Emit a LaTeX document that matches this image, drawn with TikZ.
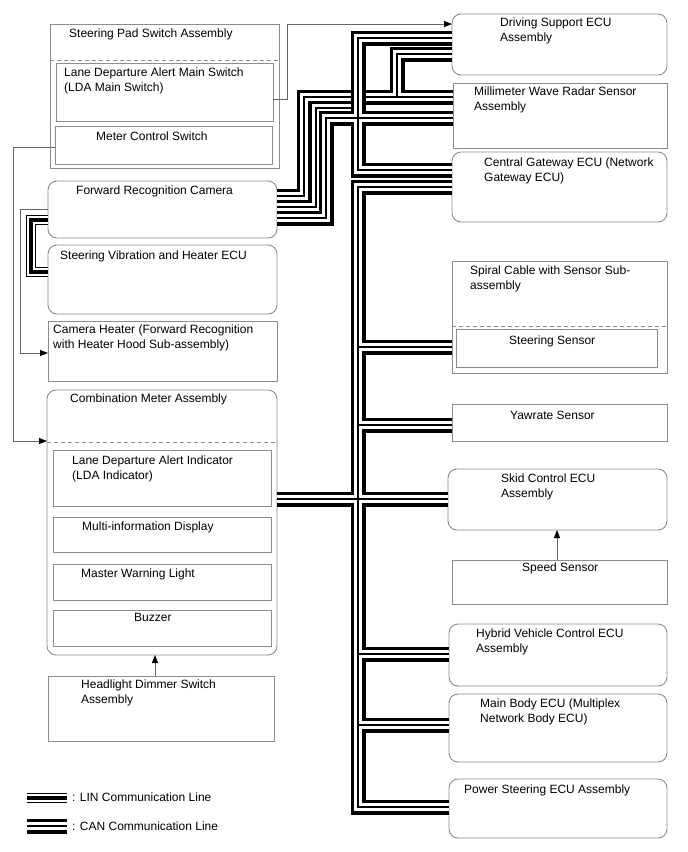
\documentclass[tikz,border=0pt]{standalone}
\usepackage{fontspec}
\setmainfont{Liberation Sans}
\usetikzlibrary{arrows.meta}
\begin{document}
\begin{tikzpicture}[x=1pt,y=-1pt,
  box/.style={draw=black!45, line width=0.9pt, inner sep=0pt, outer sep=0pt, anchor=north west},
  rbox/.style={box, rounded corners=9pt},
  lbl/.style={anchor=north west, inner sep=0pt, align=left, font=\fontsize{12}{15}\selectfont},
  canbus/.style={line width=1.3pt, preaction={draw, line width=15pt}, preaction={draw=white, line width=7.6pt}},
  linbus/.style={line width=4pt, preaction={draw, line width=10pt}, preaction={draw=white, line width=7.6pt}},
  conn/.style={draw=black!60, line width=0.8pt},
  arr/.style={conn, -{Triangle[length=8pt,width=6pt,color=black]}},
  sepline/.style={draw=black!45, line width=0.9pt, dash pattern=on 4pt off 3pt},
]
\useasboundingbox (0,0) rectangle (688,852);

% ---------- left column boxes
\node[box, minimum width=229pt, minimum height=144pt] (spad) at (50,24) {};
\node[box, minimum width=217pt, minimum height=58pt] (ldasw) at (56,63) {};
\node[box, minimum width=217pt, minimum height=38pt] (mcsw) at (55,126) {};
\node[rbox, minimum width=229pt, minimum height=57pt] (cam) at (48,181) {};
\node[rbox, minimum width=229pt, minimum height=69pt] (svh) at (48,245) {};
\node[box, minimum width=229pt, minimum height=60pt] (heat) at (48,321) {};
\node[rbox, minimum width=230pt, minimum height=265pt] (cmeter) at (47,390) {};
\node[box, minimum width=218pt, minimum height=56pt] (ldaind) at (53,450) {};
\node[box, minimum width=218pt, minimum height=35pt] (mid) at (53,517) {};
\node[box, minimum width=218pt, minimum height=36pt] (mwl) at (53,564) {};
\node[box, minimum width=218pt, minimum height=36pt] (buz) at (53,610) {};
\node[box, minimum width=226pt, minimum height=65pt] (hds) at (48,676) {};

% ---------- right column boxes
\node[rbox, minimum width=215pt, minimum height=61pt] (ds) at (452,14) {};
\node[box, minimum width=214pt, minimum height=65pt] (mw) at (453,83) {};
\node[rbox, minimum width=215pt, minimum height=70pt] (cg) at (452,152) {};
\node[box, minimum width=215pt, minimum height=112pt] (spiral) at (452,261) {};
\node[box, minimum width=201pt, minimum height=38pt] (ssens) at (456,329) {};
\node[box, minimum width=215pt, minimum height=37pt] (yaw) at (452,404) {};
\node[rbox, minimum width=219pt, minimum height=61pt] (skid) at (448,469) {};
\node[box, minimum width=215pt, minimum height=44pt] (speed) at (452,560) {};
\node[rbox, minimum width=218pt, minimum height=62pt] (hv) at (449,624) {};
\node[rbox, minimum width=218pt, minimum height=68pt] (mb) at (449,694) {};
\node[rbox, minimum width=218pt, minimum height=59pt] (ps) at (449,779) {};

% ---------- dashed separators
\draw[sepline] (spad.west |- 0,60) -- (spad.east |- 0,60);
\draw[sepline] (cmeter.west |- 0,442) -- (cmeter.east |- 0,442);
\draw[sepline] (spiral.west |- 0,326) -- (spiral.east |- 0,326);

% ---------- labels
\node[lbl] (tspad) at (69,29) {Steering Pad Switch Assembly};
\node[lbl] (tldasw) at (64,68) {Lane Departure Alert Main Switch\\(LDA Main Switch)};
\node[lbl] (tmcsw) at (96,132) {Meter Control Switch};
\node[lbl] (tcam) at (76,186) {Forward Recognition Camera};
\node[lbl] (tsvh) at (60,251) {Steering Vibration and Heater ECU};
\node[lbl] (theat) at (53,325) {Camera Heater (Forward Recognition\\with Heater Hood Sub-assembly)};
\node[lbl] (tcmeter) at (70,394) {Combination Meter Assembly};
\node[lbl] (tldaind) at (72,456) {Lane Departure Alert Indicator\\(LDA Indicator)};
\node[lbl] (tmid) at (82,522) {Multi-information Display};
\node[lbl] (tmwl) at (81,569) {Master Warning Light};
\node[lbl] (tbuz) at (134,613) {Buzzer};
\node[lbl] (thds) at (81,680) {Headlight Dimmer Switch\\Assembly};
\node[lbl] (tds) at (500,18) {Driving Support ECU\\Assembly};
\node[lbl] (tmw) at (474,87) {Millimeter Wave Radar Sensor\\Assembly};
\node[lbl] (tcg) at (484,158) {Central Gateway ECU (Network\\Gateway ECU)};
\node[lbl] (tspiral) at (470,266) {Spiral Cable with Sensor Sub-\\assembly};
\node[lbl] (tssens) at (509,336) {Steering Sensor};
\node[lbl] (tyaw) at (510,411) {Yawrate Sensor};
\node[lbl] (tskid) at (501,474) {Skid Control ECU\\Assembly};
\node[lbl] (tspeed) at (522,563) {Speed Sensor};
\node[lbl] (thv) at (476,629) {Hybrid Vehicle Control ECU\\Assembly};
\node[lbl] (tmb) at (480,699) {Main Body ECU (Multiplex\\Network Body ECU)};
\node[lbl] (tps) at (464,785) {Power Steering ECU Assembly};
\node[lbl] (tlin) at (72,793) {: LIN Communication Line};
\node[lbl] (tcan) at (72,822) {: CAN Communication Line};

% ---------- thin signal connectors
\draw[arr] (ldasw.east |- 0,99) -- (287,99) -- (287,24) -- (ds.west |- 0,24);
\draw[arr] (mcsw.west |- 0,147) -- (13,147) -- (13,441) -- (cmeter.west |- 0,441);
\draw[arr] (cam.west |- 0,209) -- (20,209) -- (20,353) -- (heat.west |- 0,353);
\draw[arr] (hds.north -| 155,0) -- (cmeter.south -| 155,0);
\draw[arr] (speed.north -| 557,0) -- (skid.south -| 557,0);

% ---------- CAN buses
% camera - millimeter wave - driving support
\draw[canbus] (cam.east |- 0,196) -- (304,196) -- (304,97) -- (mw.west |- 0,97)
              (397,97) -- (397,54) -- (ds.west |- 0,54);
% camera stub to the vertical bus
\draw[canbus] (cam.east |- 0,207) -- (316,207) -- (316,108) -- (358,108);
% driving support - millimeter wave - central gateway - camera
\draw[canbus] (ds.west |- 0,38) -- (358,38) -- (358,170) -- (cg.west |- 0,170)
              (358,118) -- (mw.west |- 0,118)
              (358,118) -- (326,118) -- (326,218) -- (cam.east |- 0,218);
% main CAN trunk
\draw[canbus] (cg.west |- 0,187) -- (358,187) -- (358,807) -- (ps.west |- 0,807)
              (358,347) -- (spiral.west |- 0,347)
              (358,425) -- (yaw.west |- 0,425)
              (cmeter.east |- 0,499) -- (skid.west |- 0,499)
              (358,654) -- (hv.west |- 0,654)
              (358,725) -- (mb.west |- 0,725);

% ---------- LIN bus
\draw[linbus] (cam.west |- 0,220) -- (31,220) -- (31,272) -- (svh.west |- 0,272);

% ---------- legend
\coordinate (linA) at (27,798);
\coordinate (linB) at (67,798);
\coordinate (canA) at (27,826);
\coordinate (canB) at (67,826);
\draw[linbus] (linA) -- (linB);
\draw[canbus] (canA) -- (canB);
\end{tikzpicture}
\end{document}
